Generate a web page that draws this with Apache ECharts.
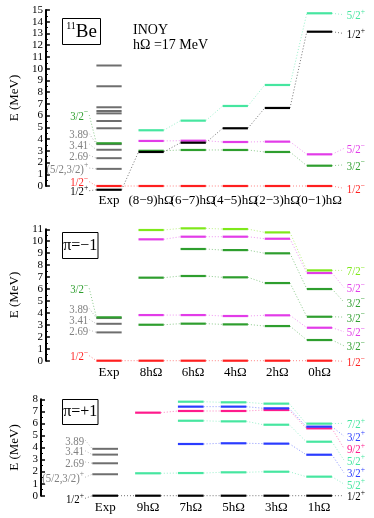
<!DOCTYPE html>
<html>
<head>
<meta charset="utf-8">
<script src="https://cdn.jsdelivr.net/npm/echarts@6/dist/echarts.min.js"></script>
<style>
  html, body { margin: 0; padding: 0; background: #fff; }
  #main { width: 374px; height: 518px; }
</style>
</head>
<body>
<div id="main"></div>
<script>
// column names of the three panels
const cols1 = ['Exp', '(8−9)hΩ', '(6−7)hΩ', '(4−5)hΩ', '(2−3)hΩ', '(0−1)hΩ'];
const cols2 = ['Exp', '8hΩ', '6hΩ', '4hΩ', '2hΩ', '0hΩ'];
const cols3 = ['Exp', '9hΩ', '7hΩ', '5hΩ', '3hΩ', '1hΩ'];

// panel 1: 11Be, INOY, hΩ = 17 MeV (MeV, null = no level)
const p1Red    = [0, 0, 0, 0, 0, 0];                          // 1/2-
const p1Black  = [-0.32, 2.90, 3.69, 4.92, 6.65, 13.15];      // 1/2+
const p1Green  = [3.64, 3.00, 3.07, 3.07, 2.90, 1.73];        // 3/2-
const p1Violet = [null, 3.84, 3.86, 3.75, 3.78, 2.70];        // 5/2-
const p1Aqua   = [null, 4.75, 5.57, 6.82, 8.61, 14.72];       // 5/2+
const p1Gray   = [1.46, 2.37, 3.09, 3.57, 4.92, 5.54, 6.19, 6.39, 6.71, 8.50, 10.27];

// panel 2: pi = -1
const p2Red     = [0, 0, 0, 0, 0, 0];
const p2Green1  = [3.63, 3.01, 3.10, 3.04, 2.90, 1.73];
const p2Violet1 = [null, 3.82, 3.82, 3.74, 3.80, 2.76];
const p2Green2  = [null, 6.95, 7.09, 6.98, 6.50, 3.68];
const p2Green3  = [null, null, 9.35, 9.26, 8.99, 6.00];
const p2Violet2 = [null, 10.16, 10.38, 10.38, 10.21, 7.34];
const p2Lime    = [null, 10.94, 11.08, 11.02, 10.74, 7.56];
const p2Gray    = [2.37, 3.09, 3.57];

// panel 3: pi = +1
const p3Black  = [0, 0, 0, 0, 0, 0];
const p3Aqua1  = [null, 1.86, 1.88, 1.94, 1.99, 1.58];
const p3Blue1  = [null, null, 4.29, 4.35, 4.32, 3.40];
const p3Aqua2  = [null, null, 6.22, 6.17, 5.89, 4.48];
const p3Pink   = [null, 6.89, 7.03, 7.03, 7.11, 5.59];
const p3Blue2  = [null, null, 7.39, 7.39, 7.25, 5.73];
const p3Aqua3  = [null, null, 7.80, 7.75, 7.64, 5.98];
const p3Gray   = [1.78, 2.69, 3.41, 3.89];

// experimental labels on the left: text, where the text sits, which level it points to
const left1   = ['3/2^−', '3.89', '3.41', '2.69', '(5/2,3/2)^+', '1/2^−', '1/2^+'];
const left1At = [6.05, 4.46, 3.58, 2.62, 1.53, 0.37, -0.40];
const left1To = [3.64, 3.57, 3.09, 2.37, 1.46, 0, -0.32];
const left2   = ['3/2^−', '3.89', '3.41', '2.69', '1/2^−'];
const left2At = [6.06, 4.38, 3.46, 2.57, 0.42];
const left2To = [3.63, 3.57, 3.09, 2.37, 0];
const left3   = ['3.89', '3.41', '2.69', '(5/2,3/2)^+', '1/2^+'];
const left3At = [4.62, 3.73, 2.80, 1.53, -0.22];
const left3To = [3.89, 3.41, 2.69, 1.78, 0];

const FONT = 'Liberation Serif';
const RED = '#ff1f1f', BLACK = '#000000', GREEN = '#2e9e2e', VIOLET = '#e23ce8',
      AQUA = '#46e6a0', LIME = '#7fe81a', BLUE = '#2a3cff', PINK = '#ff1a8c',
      GRAY = '#6e6e6e', GRAYT = '#808080';
const HALF = 0.3;

const panels = [
  {
    cols: cols1, top: 10, height: 176, max: 15, lblMargin: 8,
    gray: p1Gray,
    tracks: [
      { v: p1Aqua, c: AQUA, lab: '5/2^+', at: 14.6 },
      { v: p1Black, c: BLACK, exp: true, lab: '1/2^+', at: 13.0 },
      { v: p1Violet, c: VIOLET, lab: '5/2^−', at: 3.2 },
      { v: p1Green, c: GREEN, lab: '3/2^−', at: 1.8 },
      { v: p1Red, c: RED, exp: true, lab: '1/2^−', at: -0.2 }
    ],
    left: left1, leftAt: left1At, leftTo: left1To,
    leftCol: [GREEN, GRAYT, GRAYT, GRAYT, GRAYT, RED, BLACK]
  },
  {
    cols: cols2, top: 229.3, height: 131.4, max: 11, lblMargin: 5,
    gray: p2Gray,
    tracks: [
      { v: p2Lime, c: LIME, lab: '7/2^−', at: 7.56 },
      { v: p2Violet2, c: VIOLET, lab: '5/2^−', at: 6.14 },
      { v: p2Green3, c: GREEN, lab: '3/2^−', at: 4.91 },
      { v: p2Green2, c: GREEN, lab: '3/2^−', at: 3.65 },
      { v: p2Violet1, c: VIOLET, lab: '5/2^−', at: 2.43 },
      { v: p2Green1, c: GREEN, lab: '3/2^−', at: 1.25 },
      { v: p2Red, c: RED, exp: true, lab: '1/2^−', at: -0.05 }
    ],
    left: left2, leftAt: left2At, leftTo: left2To,
    leftCol: [GREEN, GRAYT, GRAYT, GRAYT, RED]
  },
  {
    cols: cols3, top: 399.3, height: 96.4, max: 8, lblMargin: 5,
    gray: p3Gray,
    tracks: [
      { v: p3Aqua3, c: AQUA, lab: '7/2^+', at: 6.01 },
      { v: p3Blue2, c: BLUE, lab: '3/2^+', at: 4.95 },
      { v: p3Pink, c: PINK, lab: '9/2^+', at: 3.93 },
      { v: p3Aqua2, c: AQUA, lab: '5/2^+', at: 2.96 },
      { v: p3Blue1, c: BLUE, lab: '3/2^+', at: 1.91 },
      { v: p3Aqua1, c: AQUA, lab: '5/2^+', at: 0.97 },
      { v: p3Black, c: BLACK, exp: true, lab: '1/2^+', at: 0 }
    ],
    left: left3, leftAt: left3At, leftTo: left3To,
    leftCol: [GRAYT, GRAYT, GRAYT, GRAYT, BLACK]
  }
];

// '5/2^+' -> rich text with a superscript
function sup(s) {
  const k = s.indexOf('^');
  if (k < 0) return '{m|' + s + '}';
  return '{m|' + s.slice(0, k) + '}{s|' + s.slice(k + 1) + '}';
}
function rich(color) {
  return {
    m: { fontFamily: FONT, fontSize: 12, fill: color, lineHeight: 15, verticalAlign: 'bottom' },
    s: { fontFamily: FONT, fontSize: 8.5, fill: color, lineHeight: 15, verticalAlign: 'top' }
  };
}

// one custom series drawing level bars (kind 0) and dotted links (kind 1)
function segSeries(pi, segs, color, width) {
  return {
    type: 'custom', xAxisIndex: pi, yAxisIndex: pi, clip: false, silent: true,
    data: segs,
    renderItem: (params, api) => {
      const a = api.coord([api.value(0), api.value(1)]);
      const b = api.coord([api.value(2), api.value(3)]);
      const dotted = api.value(4) === 1;
      return {
        type: 'line',
        shape: { x1: a[0], y1: a[1], x2: b[0], y2: b[1] },
        style: {
          stroke: color, lineWidth: dotted ? 1 : width,
          lineDash: dotted ? [1, 2] : null, opacity: dotted ? 0.55 : 1
        }
      };
    }
  };
}

function trackSegs(t) {
  const links = [], bars = [];
  let prev = -1;
  t.v.forEach((e, i) => {
    if (e == null) return;
    bars.push([i - HALF, e, i + HALF, e, 0]);
    if (prev >= 0 && (prev > 0 || t.exp)) links.push([prev + HALF, t.v[prev], i - HALF, e, 1]);
    prev = i;
  });
  if (t.lab) links.push([5 + HALF, t.v[5], 5.58, t.at, 1]);
  return links.concat(bars);
}

function labelSeries(pi, P) {
  const items = [];
  P.tracks.forEach(t => items.push({ r: true, text: t.lab, c: t.c, at: t.at }));
  P.left.forEach((s, k) => items.push({ r: false, text: s, c: P.leftCol[k], at: P.leftAt[k], to: P.leftTo[k] }));
  return {
    type: 'custom', xAxisIndex: pi, yAxisIndex: pi, clip: false, silent: true,
    data: items.map(it => [it.r ? 5.58 : -0.47, it.at]),
    renderItem: (params, api) => {
      const it = items[params.dataIndex];
      const p = api.coord([api.value(0), api.value(1)]);
      const children = [{
        type: 'text', x: p[0] + (it.r ? 3 : -1), y: p[1], scaleX: 0.9,
        style: {
          text: sup(it.text), rich: rich(it.c), fill: it.c,
          align: it.r ? 'left' : 'right', verticalAlign: 'middle'
        }
      }];
      if (!it.r) {
        const q = api.coord([-HALF, it.to]);
        children.push({
          type: 'line', shape: { x1: p[0], y1: p[1], x2: q[0], y2: q[1] },
          style: { stroke: it.c, lineWidth: 1, lineDash: [1, 2], opacity: 0.55 }
        });
      }
      return { type: 'group', children: children };
    }
  };
}

const grids = [], xAxes = [], yAxes = [], series = [];
panels.forEach((P, pi) => {
  grids.push({ left: 34.5, width: 306, top: P.top, height: P.height });
  xAxes.push({
    type: 'value', gridIndex: pi, min: -1.5, max: 5.5, interval: 0.5,
    axisLine: { show: false, onZero: false }, axisTick: { show: false },
    splitLine: { show: false }, axisPointer: { show: false },
    axisLabel: {
      margin: P.lblMargin, fontFamily: FONT, fontSize: 13, color: '#000',
      formatter: v => (Number.isInteger(v) && v >= 0 && v <= 5) ? P.cols[v] : ''
    }
  });
  yAxes.push({
    type: 'value', gridIndex: pi, min: 0, max: P.max, interval: 1,
    name: 'E (MeV)', nameLocation: 'middle', nameGap: 20,
    nameTextStyle: { fontFamily: FONT, fontSize: 13, color: '#000' },
    axisLine: { show: true, onZero: false, lineStyle: { color: '#000', width: 2 } },
    axisTick: { show: true, inside: true, length: 4, lineStyle: { color: '#000', width: 1.5 } },
    minorTick: { show: true, splitNumber: 2, length: 2, lineStyle: { color: '#000', width: 1 } },
    splitLine: { show: false },
    axisLabel: { margin: 3, fontFamily: FONT, fontSize: 11, color: '#000' }
  });
  series.push(segSeries(pi, P.gray.map(e => [-HALF, e, HALF, e, 0]), GRAY, 2));
  P.tracks.slice().reverse().forEach(t => series.push(segSeries(pi, trackSegs(t), t.c, 2.2)));
  series.push(labelSeries(pi, P));
});

function box(x, y, w, h, text, richStyle) {
  return [
    { type: 'rect', shape: { x: x, y: y, width: w, height: h },
      style: { fill: '#fff', stroke: '#000', lineWidth: 1 }, z: 10 },
    { type: 'text', x: x + w / 2, y: y + h / 2, z: 11,
      style: { text: text, rich: richStyle, fill: '#000', font: '16px ' + FONT,
        align: 'center', verticalAlign: 'middle', textAlign: 'center', textVerticalAlign: 'middle' } }
  ];
}

const chart = echarts.init(document.getElementById('main'), null, { renderer: 'canvas' });
chart.setOption({
  animation: false,
  backgroundColor: '#fff',
  grid: grids, xAxis: xAxes, yAxis: yAxes, series: series,
  graphic: [].concat(
    box(62.5, 18.5, 38, 26, '{s|11}{b|Be}', {
      s: { fontFamily: FONT, fontSize: 10, lineHeight: 20, verticalAlign: 'top' },
      b: { fontFamily: FONT, fontSize: 19, lineHeight: 20, verticalAlign: 'bottom' }
    }),
    box(62.5, 232.5, 35.5, 26, 'π=−1', null),
    box(62.5, 399.5, 35.5, 25, 'π=+1', null),
    [
      { type: 'text', x: 133, y: 30.5, style: { text: 'INOY', font: '14px ' + FONT, fill: '#000', verticalAlign: 'middle' } },
      { type: 'text', x: 133, y: 45, style: { text: 'hΩ =17 MeV', font: '14px ' + FONT, fill: '#000', verticalAlign: 'middle' } }
    ]
  )
});
</script>
</body>
</html>
